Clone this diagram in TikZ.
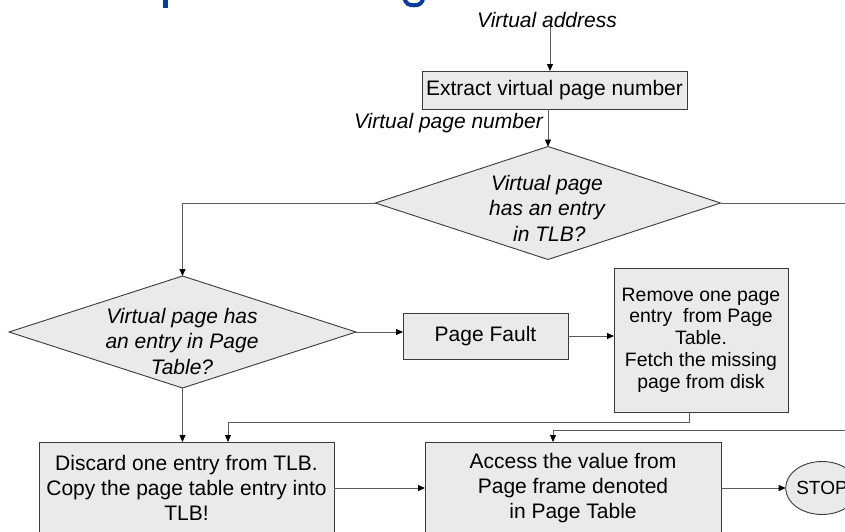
\documentclass[tikz,border=0pt]{standalone}
\usepackage{fontspec}
\setmainfont{Liberation Sans}
\usetikzlibrary{arrows.meta,shapes.geometric}
\definecolor{boxfill}{HTML}{EAEAEA}
\definecolor{boxline}{HTML}{3A3A3A}
\definecolor{titleblue}{HTML}{0A3CA0}
\definecolor{wire}{HTML}{5A5A5A}
\begin{document}
\begin{tikzpicture}[x=1pt,y=-1pt,
  box/.style={draw=boxline, fill=boxfill, line width=0.9pt, inner sep=0pt, outer sep=0pt, align=center},
  dia/.style={diamond, draw=boxline, fill=boxfill, line width=0.9pt, inner sep=0pt, outer sep=0pt},
  lbl/.style={inner sep=0pt, align=center, font=\fontsize{21}{25.5}\selectfont\itshape},
  body/.style={font=\fontsize{21}{25}\selectfont},
  conn/.style={draw=wire, line width=0.9pt, -{Triangle[length=7pt,width=6pt,color=black]}}]
  \fill[white] (0,0) rectangle (845,531);
  \useasboundingbox (0,0) rectangle (845,531);

  % descenders of the slide title running off the top edge
  \fill[titleblue] (163,-5) rectangle (167.5,7.5);
  \draw[titleblue, line width=4pt] (404.5,-3) .. controls (405,4) and (409,5.3) .. (414,5.3)
        .. controls (419.5,5.3) and (423,3) .. (423.2,-3);

  % helper positions for vertical runs
  \coordinate (ax) at (550,0);
  \coordinate (rmx) at (689,0);
  \coordinate (mrg) at (228,422);
  \coordinate (hit) at (553,430);

  % nodes
  \node[lbl, anchor=base] (va) at (547,27) {Virtual address};
  \node[box, body, minimum width=265pt, minimum height=38pt] (ex) at (554.5,90) {Extract virtual page number};
  \node[lbl, anchor=base east] (vpn) at (543,128) {Virtual page number};

  \node[dia, minimum width=345pt, minimum height=113pt] (d1) at (548,203) {};
  \node[lbl] (d1t) at (547,208) {Virtual page\\has an entry\\\hphantom{i}in TLB?};

  \node[dia, minimum width=347pt, minimum height=112pt] (d2) at (182.5,332) {};
  \node[lbl] (d2t) at (182,341) {Virtual page has\\an entry in Page\\Table?};

  \node[box, body, minimum width=165pt, minimum height=46pt] (pf) at (485.5,336) {Page Fault};
  \node[box, font=\fontsize{19.4}{21.7}\selectfont, minimum width=174pt, minimum height=144pt] (rm) at (701,340)
       {Remove one page\\entry\ \ from Page\\Table.\\Fetch the missing\\page from disk};

  \node[box, body, minimum width=295pt, minimum height=92pt, anchor=north west] (dc) at (39,442)
       {Discard one entry from TLB.\\Copy the page table entry into\\TLB!};
  \node[box, body, minimum width=296pt, minimum height=92pt, anchor=north west] (ac) at (425,442)
       {Access the value from\\Page frame denoted\\in Page Table};
  \node[ellipse, draw=boxline, fill=boxfill, line width=0.9pt, inner sep=0pt, outer sep=0pt,
        minimum width=60pt, minimum height=53pt, font=\fontsize{19}{22}\selectfont] (stop) at (822,488) {STOP};

  % connectors
  \draw[conn] (va.south -| ax) -- (ex.north -| ax);
  \draw[conn] (ex.south -| d1.north) -- (d1.north);
  \draw[conn] (d1.west) -| (d2.north);
  \draw[conn] (d1.east) -- ++(150,0) |- (hit) -- (hit |- ac.north);
  \draw[conn] (d2.east) -- (d2.east -| pf.west);
  \draw[conn] (d2.south) -- (d2.south |- dc.north);
  \draw[conn] (pf.east) -- (pf.east -| rm.west);
  \draw[conn] (rm.south -| rmx) |- (mrg) -- (mrg |- dc.north);
  \draw[conn] (dc.east) -- (ac.west);
  \draw[conn] (ac.east) -- (stop.west);
\end{tikzpicture}
\end{document}
